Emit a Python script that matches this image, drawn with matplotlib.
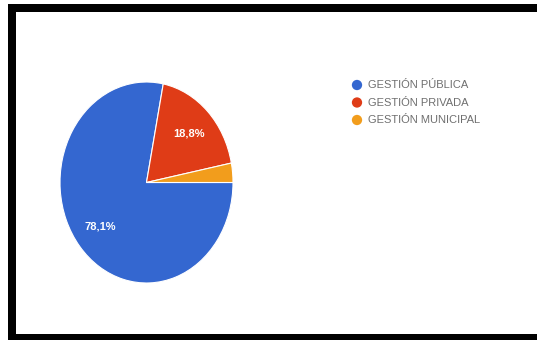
import matplotlib
matplotlib.use("Agg")
import matplotlib.pyplot as plt
from matplotlib.patches import Rectangle

# Distribution of schools by type of management (percent)
categories = ["GESTIÓN PÚBLICA", "GESTIÓN PRIVADA", "GESTIÓN MUNICIPAL"]
values = [78.1, 18.8, 3.1]
colors = ["#3467d0", "#df3c17", "#f29d1c"]

W, H = 537, 340
fig = plt.figure(figsize=(W / 100, H / 100), dpi=100)
fig.patch.set_facecolor("white")

# Frame drawn in pixel coordinates of the figure
frame = fig.add_axes([0, 0, 1, 1])
frame.set_xlim(0, W)
frame.set_ylim(H, 0)
frame.axis("off")
for x, y, w, h in [(8, 4, 8, 336), (8, 4, W - 8, 8), (8, 334, W - 8, 6)]:
    frame.add_patch(Rectangle((x, y), w, h, facecolor="black", edgecolor="none"))


def fmt_pct(p):
    return f"{p:.1f}%".replace(".", ",") if p >= 5 else ""


# Pie stretched vertically (non-equal aspect)
cx, cy, rx, ry = 146.5, 182.5, 86.5, 100.5
ax = fig.add_axes([(cx - rx) / W, (H - cy - ry) / H, 2 * rx / W, 2 * ry / H])
wedges, texts, autotexts = ax.pie(
    values,
    colors=colors,
    startangle=0,
    counterclock=False,
    autopct=fmt_pct,
    pctdistance=0.69,
    radius=1.0,
    wedgeprops=dict(edgecolor="white", linewidth=0.8),
    textprops=dict(color="white", fontsize=8, fontweight="bold",
                   family="Liberation Sans"),
)
ax.set_aspect("auto")
ax.set_xlim(-1, 1)
ax.set_ylim(-1, 1)
ax.axis("off")

# Legend
leg_x, leg_y0, leg_dy = 357, 85, 17.5
for i, (lab, col) in enumerate(zip(categories, colors)):
    y = leg_y0 + i * leg_dy
    frame.scatter([leg_x], [y], s=55, color=col, edgecolors="none", zorder=3)
    frame.text(leg_x + 11, y, lab, fontsize=8, color="#6f6f6f",
               va="center", ha="left", family="Liberation Sans")

fig.savefig("out.png", dpi=100, facecolor="white")
